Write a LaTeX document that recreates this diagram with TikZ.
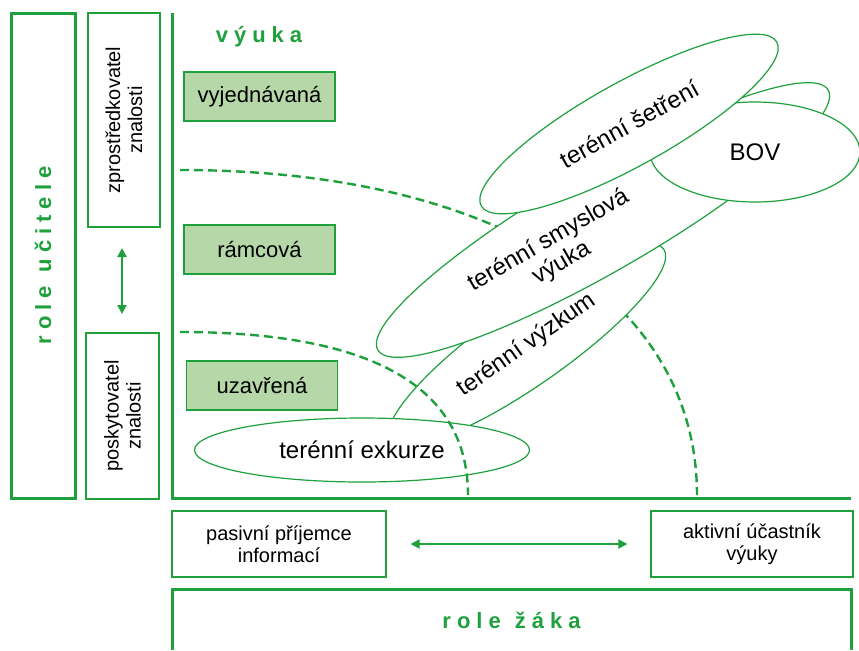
\documentclass[tikz,border=0pt]{standalone}
\usepackage{fontspec}
\setmainfont{Liberation Sans}
\usetikzlibrary{arrows.meta,shapes.geometric}
\definecolor{rolegreen}{RGB}{30,160,60}
\definecolor{typefill}{RGB}{182,215,168}
% spread the letters of a title apart
\newcommand{\titlegap}{\kern1pt}
\newcommand{\spreadtitle}[1]{\spreadfirst#1\relax}
\def\spreadfirst#1{#1\spreadnext}
\def\spreadnext#1{\ifx#1\relax\else\kern3pt#1\expandafter\spreadnext\fi}

\begin{document}
\begin{tikzpicture}[x=0.5pt,y=-0.5pt,>={Triangle[length=4.5pt,width=4.5pt]},
  rolebox/.style={draw=rolegreen,line width=1.5pt},
  thinbox/.style={draw=rolegreen,line width=0.6pt,inner sep=0pt,align=center,
    font=\fontsize{10}{11}\selectfont},
  typebox/.style={thinbox,fill=typefill,minimum width=75.5pt,minimum height=24.5pt,
    font=\fontsize{11}{13}\selectfont},
  formell/.style={ellipse,draw=rolegreen,line width=0.6pt,fill=white,inner sep=0pt,
    font=\fontsize{12}{13}\selectfont},
  zone/.style={rolegreen,line width=1.2pt,dash pattern=on 4.5pt off 2.5pt},
  roletitle/.style={text=rolegreen,font=\bfseries\fontsize{11}{13}\selectfont},
  twoway/.style={<->,rolegreen,line width=1pt}]
\useasboundingbox (0,0) rectangle (859,650);
% ================= LEFT: role of the teacher =================
\node[rolebox,roletitle,rotate=90,minimum width=242.5pt,minimum height=32pt]
  (teacher) at (43,255.5) {\spreadtitle{role\titlegap učitele}};
\node[thinbox,rotate=90,minimum width=107pt,minimum height=36pt]
  (mediator) at (124,120) {zprostředkovatel\\znalosti};
\node[thinbox,rotate=90,minimum width=83pt,minimum height=36.5pt]
  (provider) at (122.5,416) {poskytovatel\\znalosti};
\coordinate (swapT) at (122,248);
\coordinate (swapB) at (122,314);
\draw[twoway] (swapT) -- (swapB);
% ================= MAIN FIELD: forms of teaching =================
\coordinate (axisT) at (172,13);
\coordinate (origin) at (172,498);
\coordinate (axisR) at (851,498);
\draw[rolebox] (axisT) -- (origin) -- (axisR);
\node[roletitle,anchor=base] (teaching) at (259,42) {\spreadtitle{výuka}};
\node[typebox] (negotiated) at (259.5,96.5) {vyjednávaná};
\node[typebox] (framed) at (259.5,249.5) {rámcová};
\node[typebox] (closed) at (262,385.5) {uzavřená};
% outer zone border lies below the ellipses
\draw[zone] (180,170) .. controls (500,170) and (697,300) .. (697,495);
% ellipses, from back to front
\node[formell,rotate=35,minimum width=167pt,minimum height=40pt]
  (research) at (527,345) {terénní výzkum};
\node[formell,rotate=30,minimum width=260pt,minimum height=51pt]
  (sensory) at (603,220) {};
\node[rotate=30,align=center,inner sep=0pt,font=\fontsize{12}{13}\selectfont]
  (sensorytext) at (555,252) {terénní smyslová\\výuka};
\node[formell,minimum width=105pt,minimum height=50pt]
  (bov) at (755,152) {BOV};
\node[formell,rotate=29,minimum width=169pt,minimum height=42pt]
  (survey) at (629,124) {terénní šetření};
\node[formell,minimum width=167.5pt,minimum height=32pt]
  (excursion) at (362,450) {terénní exkurze};
% inner zone border is drawn over them
\draw[zone] (180,332) .. controls (360,332) and (468,380) .. (468,495);
% ================= BOTTOM: role of the pupil =================
\node[thinbox,minimum width=107pt,minimum height=33pt]
  (passive) at (279,544) {pasivní příjemce\\informací};
\node[thinbox,minimum width=101pt,minimum height=33pt]
  (active) at (752,544) {aktivní účastník\\výuky};
\draw[twoway,shorten <=12pt,shorten >=11.5pt] (passive.east) -- (active.west);
\coordinate (pupilL) at (172,650);
\coordinate (pupilR) at (851,650);
\draw[rolebox] (pupilL) |- (851,589) -- (pupilR);
\node[roletitle,anchor=base] (pupil) at (511.5,628) {\spreadtitle{role\titlegap žáka}};
\end{tikzpicture}
\end{document}
